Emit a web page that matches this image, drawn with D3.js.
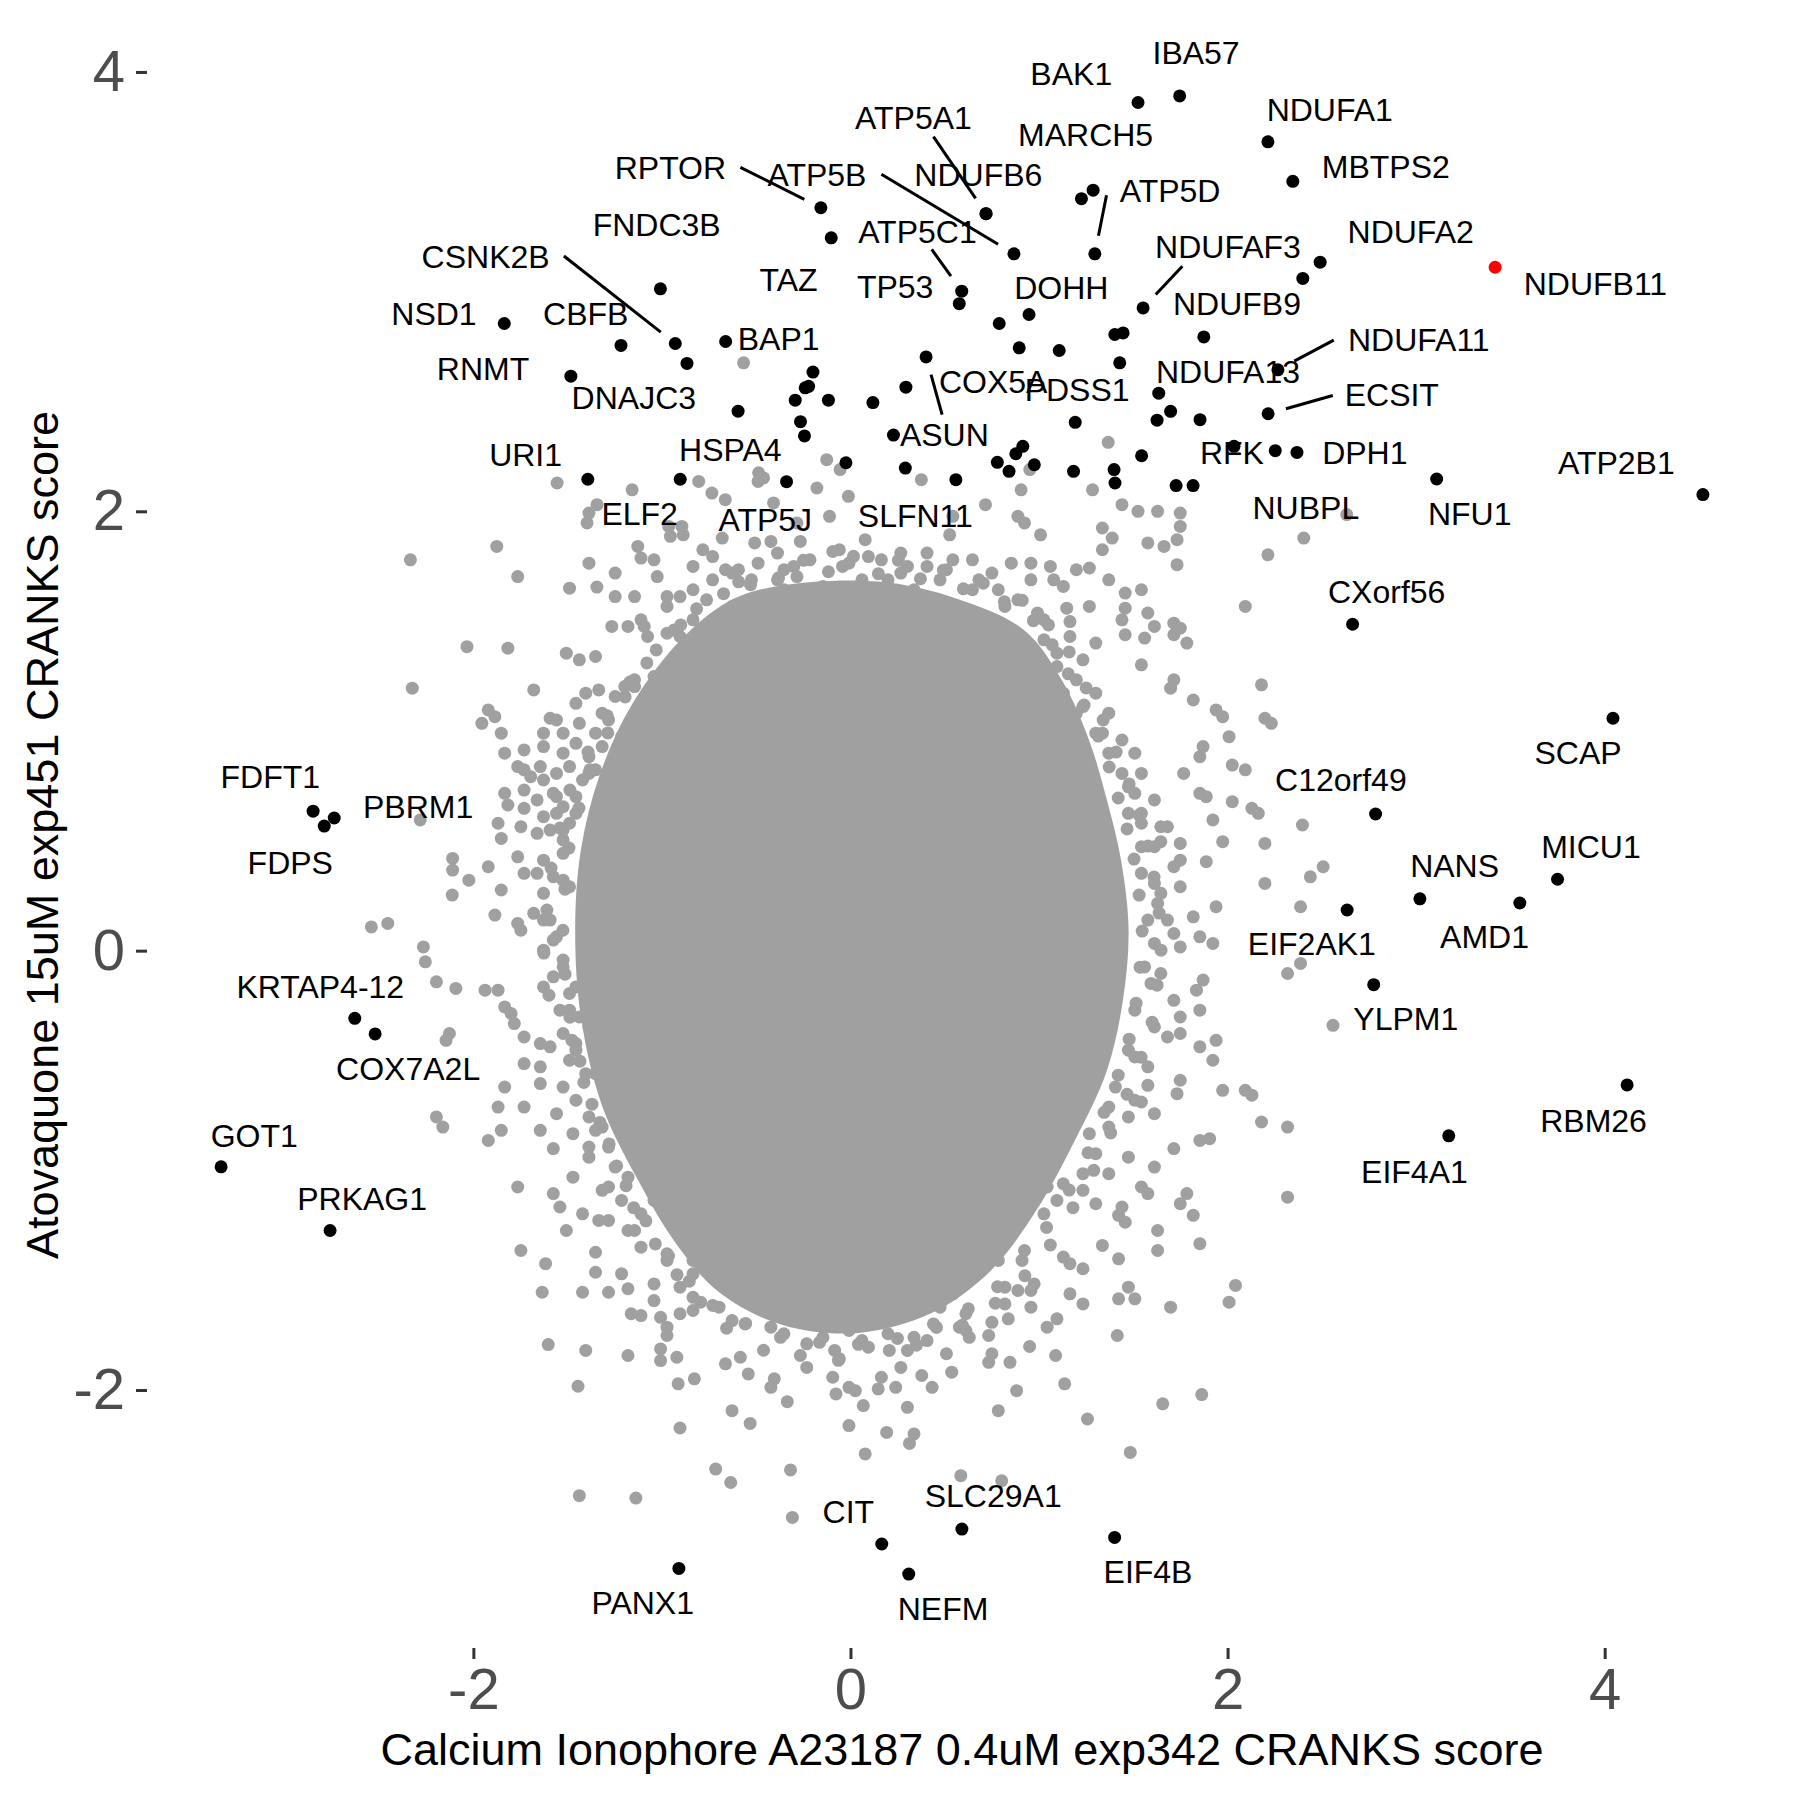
<!DOCTYPE html>
<html>
<head>
<meta charset="utf-8">
<script src="https://cdn.jsdelivr.net/npm/d3@7"></script>
<style>
  body { margin: 0; background: #ffffff; }
</style>
</head>
<body>
<div id="caja"></div>
<script>
// labelled genes: name, x score, y score, label x, label y (label spots as ggrepel left them)
var labeledGenes = [
  ["RPTOR", -0.157, 3.382, -0.955, 3.564],
  ["ATP5B", 0.867, 3.172, -0.178, 3.534],
  ["ATP5A1", 0.719, 3.355, 0.334, 3.792],
  ["NDUFB6", 0.719, 3.355, 0.678, 3.534],
  ["TAZ", -0.102, 3.245, -0.328, 3.055],
  ["ATP5C1", 0.590, 3.002, 0.355, 3.274],
  ["TP53", 0.577, 2.945, 0.237, 3.023],
  ["FNDC3B", -1.008, 3.013, -1.028, 3.306],
  ["CSNK2B", -0.929, 2.764, -1.935, 3.160],
  ["NSD1", -1.836, 2.855, -2.209, 2.900],
  ["CBFB", -1.217, 2.755, -1.404, 2.900],
  ["RNMT", -1.483, 2.615, -1.949, 2.650],
  ["DNAJC3", -0.867, 2.673, -1.149, 2.518],
  ["BAP1", -0.662, 2.773, -0.381, 2.787],
  ["HSPA4", -0.596, 2.456, -0.637, 2.281],
  ["URI1", -1.393, 2.146, -1.723, 2.258],
  ["ELF2", -0.903, 2.146, -1.118, 1.989],
  ["ATP5J", -0.339, 2.135, -0.452, 1.962],
  ["SLFN11", 0.291, 2.197, 0.344, 1.980],
  ["ASUN", 0.401, 2.703, 0.498, 2.349],
  ["COX5A", 0.895, 2.744, 0.757, 2.593],
  ["ATP5D", 1.296, 3.172, 1.695, 3.459],
  ["MARCH5", 1.287, 3.462, 1.247, 3.716],
  ["DOHH", 0.947, 2.896, 1.118, 3.019],
  ["BAK1", 1.525, 3.861, 1.171, 3.992],
  ["IBA57", 1.746, 3.891, 1.833, 4.090],
  ["NDUFA1", 2.214, 3.682, 2.542, 3.830],
  ["MBTPS2", 2.346, 3.502, 2.839, 3.570],
  ["NDUFA2", 2.491, 3.134, 2.971, 3.272],
  ["NDUFB11", 3.419, 3.111, 3.951, 3.037],
  ["NDUFAF3", 1.552, 2.926, 2.002, 3.207],
  ["NDUFB9", 1.874, 2.794, 2.050, 2.948],
  ["NDUFA11", 2.267, 2.644, 3.014, 2.782],
  ["NDUFA13", 1.635, 2.538, 2.002, 2.638],
  ["ECSIT", 2.215, 2.444, 2.871, 2.531],
  ["PDSS1", 1.192, 2.405, 1.202, 2.554],
  ["RFK", 2.034, 2.296, 2.023, 2.267],
  ["DPH1", 2.368, 2.268, 2.728, 2.267],
  ["NUBPL", 2.253, 2.276, 2.415, 2.016],
  ["NFU1", 3.109, 2.147, 3.284, 1.989],
  ["ATP2B1", 4.521, 2.076, 4.062, 2.221],
  ["CXorf56", 2.663, 1.486, 2.844, 1.635],
  ["SCAP", 4.044, 1.058, 3.859, 0.900],
  ["C12orf49", 2.785, 0.622, 2.601, 0.777],
  ["MICU1", 3.750, 0.325, 3.927, 0.472],
  ["NANS", 3.020, 0.236, 3.204, 0.390],
  ["AMD1", 3.550, 0.217, 3.363, 0.064],
  ["EIF2AK1", 2.634, 0.185, 2.447, 0.031],
  ["YLPM1", 2.775, -0.155, 2.945, -0.308],
  ["RBM26", 4.119, -0.611, 3.941, -0.772],
  ["EIF4A1", 3.173, -0.843, 2.991, -1.005],
  ["FDFT1", -2.850, 0.635, -3.077, 0.792],
  ["PBRM1", -2.738, 0.604, -2.293, 0.657],
  ["FDPS", -2.791, 0.567, -2.971, 0.403],
  ["KRTAP4-12", -2.629, -0.308, -2.812, -0.161],
  ["COX7A2L", -2.521, -0.379, -2.346, -0.538],
  ["GOT1", -3.338, -0.984, -3.162, -0.840],
  ["PRKAG1", -2.760, -1.274, -2.590, -1.126],
  ["PANX1", -0.910, -2.812, -1.102, -2.969],
  ["CIT", 0.166, -2.701, -0.011, -2.553],
  ["NEFM", 0.309, -2.838, 0.491, -2.996],
  ["SLC29A1", 0.591, -2.633, 0.757, -2.481],
  ["EIF4B", 1.401, -2.671, 1.578, -2.826]
];

// where the repel segments leave the label
var segmentStarts = [
  ["RPTOR", -0.584, 3.566],
  ["ATP5B", 0.164, 3.534],
  ["ATP5A1", 0.440, 3.706],
  ["CSNK2B", -1.520, 3.162],
  ["ATP5C1", 0.431, 3.192],
  ["ATP5D", 1.358, 3.439],
  ["NDUFAF3", 1.760, 3.116],
  ["NDUFA11", 2.563, 2.779],
  ["ECSIT", 2.558, 2.527],
  ["ASUN", 0.486, 2.440]
];

var highlightGene = "NDUFB11";

// other hits, no label
var otherHits = [
  [0.228,2.347],[1.225,3.423],[2.399,3.060],[0.789,2.855],[1.107,2.732],[0.294,2.565],[0.119,2.495],
  [1.428,2.676],[1.402,2.805],[1.446,2.812],[1.698,2.455],[1.626,2.415],[1.854,2.417],[1.727,2.117],
  [1.817,2.117],[-0.199,2.634],[-0.240,2.562],[-0.222,2.569],[-0.293,2.506],[-0.117,2.506],[-0.265,2.408],
  [-0.244,2.343],[-0.024,2.221],[0.914,2.296],[0.877,2.262],[0.779,2.223],[0.841,2.182],[0.975,2.212],
  [1.183,2.182],[1.398,2.190],[1.403,2.129],[1.544,2.253],[0.559,2.144]
];

// outline of the part of the cloud where the grey dots merge into one blot
var denseCore = [
  [-0.381,1.66],[0.148,1.68],[0.572,1.60],[0.920,1.460],[1.120,1.233],[1.265,0.959],[1.360,0.686],
  [1.435,0.412],[1.475,0.093],[1.445,-0.226],[1.360,-0.545],[1.190,-0.864],[0.980,-1.190],[0.740,-1.460],
  [0.430,-1.650],[0.042,-1.740],[-0.355,-1.705],[-0.690,-1.560],[-0.920,-1.340],[-1.130,-1.040],
  [-1.320,-0.700],[-1.430,-0.300],[-1.460,0.093],[-1.430,0.458],[-1.330,0.800],[-1.160,1.119],
  [-0.900,1.415],[-0.646,1.590]
];

// genes sitting right on the rim of the blot
var rimGenes = [
  [-0.381,1.697],[-0.117,1.725],[0.148,1.716],[0.371,1.693],[0.599,1.647],[0.816,1.588],[0.970,1.502],
  [1.070,1.392],[1.155,1.260],[1.239,1.118],[1.314,0.977],[1.372,0.836],[1.420,0.695],[1.467,0.554],
  [1.504,0.417],[1.531,0.253],[1.547,0.089],[1.536,-0.075],[1.515,-0.239],[1.478,-0.403],[1.420,-0.567],
  [1.345,-0.736],[1.260,-0.920],[1.160,-1.090],[1.040,-1.260],[0.910,-1.410],[0.780,-1.530],[0.625,-1.630],
  [0.456,-1.715],[0.249,-1.765],[0.042,-1.792],[-0.164,-1.783],[-0.371,-1.760],[-0.556,-1.697],[-0.730,-1.615],
  [-0.855,-1.505],[-0.965,-1.390],[-1.085,-1.230],[-1.190,-1.070],[-1.280,-0.880],[-1.371,-0.699],[-1.435,-0.503],
  [-1.488,-0.303],[-1.514,-0.107],[-1.525,0.093],[-1.514,0.280],[-1.493,0.467],[-1.440,0.649],[-1.382,0.823],
  [-1.287,0.991],[-1.195,1.155],[-1.080,1.310],[-0.935,1.460],[-0.816,1.556],[-0.673,1.625],[-0.530,1.666],
  [-0.249,1.777],[0.016,1.795],[0.254,1.777],[0.493,1.732],[0.704,1.673],[0.911,1.595],[1.050,1.483],
  [1.160,1.360],[1.250,1.196],[1.340,1.050],[1.409,0.904],[1.478,0.759],[1.531,0.617],[1.578,0.476],
  [1.610,0.335],[1.637,0.171],[1.647,0.002],[1.626,-0.157],[1.600,-0.326],[1.541,-0.485],[1.467,-0.654],
  [1.380,-0.830],[1.290,-1.000],[1.180,-1.170],[1.060,-1.340],[0.925,-1.480],[0.768,-1.605],[0.593,-1.705],
  [0.350,-1.796],[-0.064,-1.865],[-0.461,-1.819],[-0.657,-1.719],[-0.795,-1.600],[-0.920,-1.475],[-1.035,-1.335],
  [-1.150,-1.170],[-1.240,-0.980],[-1.329,-0.782],[-1.414,-0.600],[-1.477,-0.408],[-1.599,-0.203],[-1.626,-0.011],
  [-1.610,0.185],[-1.588,0.376],[-1.541,0.558],[-1.488,0.731],[-1.392,0.904],[-1.290,1.069],[-1.170,1.223],
  [-1.030,1.369],[-0.900,1.483],[-0.763,1.597],[-0.593,1.679]
];

// the rest of the genes, around the dense part
var backgroundGenes = [
  [-0.567,2.676],[-0.126,2.235],[-0.487,2.175],[-0.461,2.152],[-0.055,2.190],[1.367,2.314],[0.951,2.190],
  [0.376,2.144],[2.632,1.985],[-1.556,2.129],[-1.158,2.098],[-1.344,2.030],[-1.397,1.947],[-0.805,2.136],
  [-0.735,2.083],[-0.664,2.053],[-0.408,2.038],[-0.964,1.931],[-0.894,1.931],[-0.011,2.068],[-0.178,2.106],
  [-0.490,2.136],[0.905,2.098],[1.284,2.098],[1.440,2.030],[1.525,2.000],[1.629,2.000],[1.749,1.992],
  [-1.387,1.992],[-0.955,1.886],[-0.887,1.893],[-0.284,1.947],[-0.266,1.863],[-0.111,1.977],[0.543,1.977],
  [0.526,1.893],[0.716,2.030],[0.888,1.977],[0.923,1.947],[1.008,1.893],[1.336,1.924],[1.388,1.878],
  [1.577,1.856],[1.663,1.840],[1.732,1.871],[1.749,1.931],[2.404,1.878],[2.214,1.802],[1.732,1.757],
  [1.336,1.825],[-1.128,1.840],[-1.111,1.787],[-0.783,1.825],[-0.680,1.878],[-0.508,1.856],[-0.422,1.863],
  [0.078,1.871],[-2.334,1.779],[-1.876,1.840],[-1.765,1.703],[-1.490,1.650],[-1.345,1.655],[-1.042,1.779],
  [-1.025,1.703],[-0.663,1.734],[-0.594,1.734],[-0.353,1.734],[-0.301,1.749],[-0.284,1.703],[-0.094,1.817],
  [-0.059,1.825],[0.957,1.764],[1.078,1.688],[1.198,1.734],[1.267,1.742],[1.457,1.628],[1.457,1.559],
  [1.440,1.506],[1.577,1.537],[2.094,1.567],[1.612,1.476],[1.715,1.491],[1.749,1.468],[1.715,1.438],
  [1.784,1.400],[1.560,1.423],[1.457,1.438],[1.301,1.400],[1.164,1.498],[1.147,1.559],[1.267,1.567],
  [-1.248,1.612],[-1.145,1.612],[-1.266,1.476],[-1.180,1.476],[-0.973,1.612],[-0.904,1.612],[-1.094,1.476],
  [-1.076,1.430],[-2.034,1.384],[-1.817,1.377],[-1.507,1.354],[-1.438,1.324],[-1.352,1.339],[-2.324,1.195],
  [-1.680,1.187],[2.180,1.210],[1.543,1.301],[1.715,1.233],[1.698,1.195],[1.818,1.141],[1.939,1.096],
  [1.974,1.065],[2.198,1.058],[2.232,1.035],[2.008,0.974],[1.870,0.929],[1.853,0.883],[2.025,0.845],
  [2.094,0.823],[1.767,0.807],[1.853,0.716],[1.887,0.701],[2.025,0.678],[2.129,0.648],[2.163,0.625],
  [1.922,0.595],[1.646,0.564],[1.749,0.488],[1.974,0.496],[2.198,0.488],[2.397,0.572],[2.507,0.382],
  [2.439,0.336],[2.198,0.306],[1.749,0.291],[1.612,0.306],[1.887,0.405],[1.749,0.412],[1.646,0.496],
  [1.543,0.580],
  [-1.921,1.096],[-1.886,1.065],[-1.955,1.035],[-1.852,0.990],[-1.593,1.058],[-1.559,1.050],[-1.834,0.899],
  [-1.765,0.838],[-1.731,0.823],[-1.696,0.792],[-1.645,0.838],[-1.834,0.716],[-1.817,0.663],[-1.731,0.648],
  [-1.869,0.580],[-1.852,0.511],[-1.748,0.564],[-2.282,0.595],[-2.110,0.420],[-2.110,0.367],[-1.921,0.382],
  [-2.024,0.321],[-1.731,0.352],[-1.662,0.352],[-1.852,0.276],[-1.576,0.336],[-1.490,0.291],[-2.112,0.253],
  [-2.541,0.108],[-2.454,0.124],[-2.265,0.017],[-2.255,-0.051],[-2.196,-0.142],[-2.093,-0.172],[-1.938,-0.180],
  [-1.869,-0.180],[-1.886,0.162],[-1.765,0.124],[-1.748,0.093],[-1.680,0.170],[-1.834,-0.256],[-1.800,-0.286],
  [-1.783,-0.332],[-1.731,-0.393],[-1.645,-0.423],[-1.593,-0.438],[-2.127,-0.377],[-2.145,-0.408],[-1.834,-0.621],
  [-1.645,-0.605],[-1.869,-0.712],[-1.731,-0.712],[-2.196,-0.757],[-2.162,-0.803],[-1.852,-0.818],[-1.921,-0.864],
  [-1.645,-0.818],[-1.576,-0.901],[-1.472,-0.833],[-1.387,-0.894],[-1.765,-1.076],[-1.472,-1.031],[-1.576,-1.106],
  [-1.541,-1.167],[-1.507,-1.274],[-1.421,-1.198],[-1.335,-1.228],[-1.628,0.139],[-1.576,0.048],[-1.524,-0.074],
  [-1.456,-0.165],[-1.490,-0.271],[-1.387,-0.347],[-1.456,-0.453],[-1.352,-0.560],[-1.248,-0.681],[-1.317,-0.803],
  [-1.180,-0.894],[-1.111,-0.985],[-1.283,-1.076],[-1.042,-1.137],[-0.904,-1.198],[-1.180,-1.274],
  [-1.593,0.139],[-1.559,0.063],[-1.628,0.002],[-1.524,-0.043],[-1.576,-0.119],[-1.628,-0.165],[-1.490,-0.195],
  [-1.541,-0.271],[-1.438,-0.302],[-1.524,-0.377],[-1.456,-0.423],[-1.490,-0.499],[-1.404,-0.560],[-1.524,-0.621],
  [-1.456,-0.681],[-1.559,-0.742],[-1.387,-0.757],[-1.352,-0.818],[-1.283,-0.894],[-1.387,-0.940],[-1.248,-0.985],
  [-1.180,-1.031],[-1.317,-1.091],[-1.214,-1.137],[-1.111,-1.198],[-1.145,-1.274],[-1.283,-1.228],[-1.731,-0.514],
  [-1.645,-0.529],
  [-1.404,1.172],[-1.335,1.187],[-1.197,1.202],[-1.145,1.233],[-1.076,1.172],[-1.042,1.248],[-0.973,1.202],
  [-0.887,1.233],[-1.628,0.990],[-1.524,0.990],[-1.438,1.035],[-1.352,0.990],[-1.283,1.050],[-1.214,0.974],
  [-1.111,1.020],[-1.731,0.914],[-1.628,0.929],[-1.524,0.899],[-1.456,0.944],[-1.387,0.883],[-1.317,0.929],
  [-1.248,0.899],[-1.559,0.807],[-1.490,0.838],[-1.421,0.777],[-1.352,0.823],[-1.731,0.731],[-1.662,0.686],
  [-1.576,0.716],[-1.524,0.655],[-1.456,0.701],[-1.628,0.610],[-1.559,0.625],[-1.490,0.580],[-1.662,0.534],
  [-1.593,0.549],[-1.524,0.504],[-1.765,0.427],[-1.628,0.412],[-1.524,0.443],[-1.524,0.321],[-1.628,0.261],
  [1.629,0.215],[1.681,0.139],[1.818,0.154],[1.939,0.200],[1.715,0.078],[1.749,0.017],[1.853,0.063],
  [1.922,0.033],[2.387,0.200],[2.318,-0.104],[2.387,-0.058],[2.559,-0.340],[1.646,-0.104],[1.715,-0.226],
  [1.835,-0.180],[1.870,-0.134],[1.749,-0.302],[1.853,-0.271],[1.681,-0.393],[1.749,-0.377],[1.939,-0.408],
  [1.922,-0.499],[1.853,-0.438],[1.749,-0.590],[1.732,-0.651],[1.577,-0.613],[1.543,-0.689],[1.974,-0.636],
  [2.094,-0.636],[2.129,-0.658],[2.180,-0.780],[2.318,-0.803],[1.715,-0.901],[1.853,-0.864],[1.905,-0.856],
  [1.474,-0.940],[1.612,-0.985],[1.612,-0.742],[1.474,-0.757],[2.318,-1.122],[1.784,-1.106],[1.749,-1.152],
  [1.543,-1.076],[1.577,-1.106],[1.440,-1.167],[1.301,-1.152],[1.818,-1.205],[1.629,-1.274],[1.457,-1.236],
  [1.422,-1.205],[1.233,-1.015],[1.129,-1.061],[1.043,-1.076],[1.508,-0.484],[1.370,-0.712],[1.267,-0.833],
  [1.577,0.139],[1.612,0.033],[1.560,-0.074],[1.594,-0.149],[1.508,-0.271],[1.612,-0.347],[1.474,-0.453],
  [1.577,-0.529],[1.405,-0.621],[1.508,-0.681],[1.370,-0.803],[1.301,-0.924],[1.370,-1.015],[1.233,-1.091],
  [1.095,-1.137],[1.026,-1.198],[0.888,-1.228],[0.784,-1.289],
  [1.095,1.293],[1.198,1.233],[1.301,1.172],[1.233,1.111],[1.370,1.081],[1.336,0.990],[1.440,0.959],
  [1.508,0.899],[1.543,0.807],[1.474,0.746],[1.612,0.686],[1.543,0.625],[1.681,0.564],[1.612,0.473],
  [1.715,0.382],[1.543,0.352],[1.646,0.261],
  [1.129,1.172],[1.198,1.081],[1.301,0.990],[1.370,0.899],[1.440,0.807],[1.508,0.716],[1.474,0.625],
  [1.543,0.473],[0.957,1.384],[0.819,1.460],[0.681,1.506],[1.026,1.506],[-1.456,1.126],[-1.317,1.081],
  [-1.248,1.157],[-1.145,1.202],[-1.628,0.777],[-1.559,0.701],[-1.456,0.625],[-1.524,0.549],[-1.387,0.807],
  [-1.283,0.716],[-0.525,1.688],[-0.353,1.643],[-0.146,1.658],[0.061,1.688],[0.267,1.719],[0.475,1.688],
  [0.647,1.643],[-0.628,1.567],[-0.835,1.506],[-0.973,1.445],[-0.731,1.688],[-0.628,1.719],[-0.387,1.688],
  [-0.008,1.764],[0.164,1.779],[0.267,1.810],[0.406,1.749],[0.543,1.779],[0.681,1.688],[0.784,1.643],
  [0.888,1.597],[0.337,1.643],[-0.835,1.643],[-0.973,1.567],[-1.111,1.506],
  [1.026,1.415],[1.095,1.354],[1.164,1.430],[1.233,1.324],[0.992,1.537],[0.819,1.567],[-0.835,1.384],
  [-0.904,1.430],[-0.766,1.460],
  [-0.835,1.749],[-0.731,1.794],[-0.490,1.764],[-0.387,1.810],[-0.215,1.779],[-0.042,1.749],[0.095,1.794],
  [0.199,1.688],[0.302,1.749],[0.406,1.810],[0.509,1.734],[0.647,1.779],[0.750,1.719],[0.853,1.764],
  [0.957,1.688],[1.060,1.749],[1.129,1.658],[1.370,1.688],[1.543,1.643],[-1.248,1.719],[-1.387,1.764],
  [-1.748,-1.365],[-1.617,-1.425],[-1.352,-1.373],[-1.352,-1.464],[-1.635,-1.555],[-1.421,-1.555],[-1.283,-1.555],
  [-1.180,-1.539],[-1.163,-1.653],[-1.111,-1.661],[-1.007,-1.669],[-0.973,-1.714],[-0.973,-1.752],[-1.603,-1.793],
  [-1.404,-1.820],[-1.180,-1.843],[-1.007,-1.813],[-1.007,-1.866],[-0.921,-1.851],[-1.445,-1.983],[-0.914,-1.972],
  [-0.828,-1.949],[-0.904,-2.173],[-0.663,-1.881],[-0.584,-1.851],[-0.628,-2.094],[-0.532,-2.152],[-0.542,-1.927],
  [-0.404,-1.949],[-0.422,-1.988],[-0.335,-2.053],[-0.266,-1.843],[-0.232,-1.897],[-0.232,-1.790],[-0.084,-1.820],
  [-0.059,-1.858],[-0.094,-1.942],[-0.077,-2.018],[-0.008,-1.988],[0.026,-2.003],[0.068,-2.071],[-0.008,-2.162],
  [0.164,-1.942],[0.147,-1.995],[0.240,-1.988],[0.192,-2.193],[0.302,-2.079],[0.337,-2.200],[0.313,-2.243],
  [0.267,-1.897],[0.302,-1.820],[0.206,-1.820],[0.095,-1.805],[0.378,-1.934],[0.433,-1.988],[0.537,-1.919],
  [0.509,-1.835],[0.078,-2.291],[-0.715,-2.360],[-0.635,-2.421],[-0.318,-2.364],[-1.438,-2.481],[-1.138,-2.492],
  [-0.308,-2.580],[0.585,-2.390],[0.802,-2.413],[0.784,-2.094],[0.881,-2.003],[0.733,-1.874],[0.750,-1.835],
  [0.846,-1.874],[0.950,-1.802],[1.088,-1.843],[1.136,-1.972],[1.257,-2.132],[1.484,-2.284],[1.656,-2.063],
  [1.863,-2.021],[1.415,-1.752],[1.698,-1.623],[2.008,-1.600],[2.042,-1.524],[1.508,-1.585],[1.422,-1.585],
  [1.474,-1.532],[1.164,-1.562],[1.233,-1.608],[1.095,-1.676],[1.043,-1.714],[0.957,-1.623],[0.837,-1.676],
  [0.750,-1.692],[0.733,-1.752],[1.129,-1.395],[1.164,-1.425],[1.233,-1.448],[1.422,-1.403],[1.336,-1.342],
  [1.629,-1.365],[1.853,-1.334],[0.974,-1.517],[0.888,-1.547],[0.819,-1.532],[0.612,-1.653],[0.578,-1.714],
  [0.630,-1.760],[0.543,-1.562],[-0.835,-1.578],[-0.697,-1.623],[-0.559,-1.699],[-0.353,-1.744],[-0.146,-1.760],
  [0.061,-1.775],[0.337,-1.760],[0.440,-1.699],[-0.835,-1.471],[-0.973,-1.410],[-1.042,-1.517],[-0.904,-1.653],
  [-1.111,-1.350],[-0.973,-1.380],[-0.835,-1.410],[-0.697,-1.456],[-0.559,-1.486],[-0.353,-1.517],[-0.146,-1.547],
  [0.061,-1.562],[0.267,-1.547],[0.440,-1.501],[0.612,-1.456],[0.784,-1.410],[0.923,-1.365],[-1.042,-1.593],
  [-0.835,-1.638],[-0.628,-1.684],[-0.422,-1.714],[-0.215,-1.699],[-0.008,-1.729],[0.199,-1.744],[0.406,-1.775],
  [0.612,-1.729],[0.819,-1.608],[0.957,-1.547],[-1.214,-1.471],[-0.904,-1.532],[-0.353,-1.623],[-0.077,-1.653],
  [0.164,-1.669],[0.475,-1.623]
];

var xTicks = [-2, 0, 2, 4];
var yTicks = [-2, 0, 2, 4];
var xTitle = "Calcium Ionophore A23187 0.4uM exp342 CRANKS score";
var yTitle = "Atovaquone 15uM exp451 CRANKS score";

var w = 1800, h = 1800;
var margin = {top: 22, right: 23, bottom: 152, left: 147};
var pw = w - margin.left - margin.right;
var ph = h - margin.top - margin.bottom;
var fuente = "'Liberation Sans', Arial, Helvetica, sans-serif";

var greyGenes = backgroundGenes.concat(rimGenes);

// domain = data range + 5% each side, like ggplot
var allX = [], allY = [];
labeledGenes.forEach(function(d) { allX.push(d[1]); allY.push(d[2]); });
otherHits.concat(greyGenes).forEach(function(d) { allX.push(d[0]); allY.push(d[1]); });
var ex = d3.extent(allX), ey = d3.extent(allY);
var padX = (ex[1] - ex[0]) * 0.05, padY = (ey[1] - ey[0]) * 0.05;

var x = d3.scaleLinear().domain([ex[0] - padX, ex[1] + padX]).range([margin.left, margin.left + pw]);
var y = d3.scaleLinear().domain([ey[0] - padY, ey[1] + padY]).range([margin.top + ph, margin.top]);

var chart = d3.select('#caja')
  .append('svg')
  .attr('width', w)
  .attr('height', h)
  .style('background', '#ffffff');

// dense part of the grey cloud
var coreLine = d3.line()
  .x(function(d) { return x(d[0]); })
  .y(function(d) { return y(d[1]); })
  .curve(d3.curveCatmullRomClosed.alpha(0.5));

chart.append('path')
  .datum(denseCore)
  .attr('d', coreLine)
  .style('fill', '#a0a0a0');

chart.append('g')
  .selectAll('circle')
  .data(greyGenes)
  .enter()
  .append('circle')
  .attr('cx', function(d) { return x(d[0]); })
  .attr('cy', function(d) { return y(d[1]); })
  .attr('r', 6.5)
  .style('fill', '#a0a0a0');

// black hits
chart.append('g')
  .selectAll('circle')
  .data(otherHits)
  .enter()
  .append('circle')
  .attr('cx', function(d) { return x(d[0]); })
  .attr('cy', function(d) { return y(d[1]); })
  .attr('r', 6.5)
  .style('fill', 'black');

chart.append('g')
  .selectAll('circle')
  .data(labeledGenes)
  .enter()
  .append('circle')
  .attr('cx', function(d) { return x(d[1]); })
  .attr('cy', function(d) { return y(d[2]); })
  .attr('r', 6.5)
  .style('fill', function(d) { return d[0] === highlightGene ? '#ff0000' : 'black'; });

// segments: from label side to the point, stopping short of it
var byName = {};
labeledGenes.forEach(function(d) { byName[d[0]] = d; });

chart.append('g')
  .selectAll('line')
  .data(segmentStarts)
  .enter()
  .append('line')
  .each(function(s) {
    var g = byName[s[0]];
    var x1 = x(s[1]), y1 = y(s[2]);
    var px = x(g[1]), py = y(g[2]);
    var dx = px - x1, dy = py - y1;
    var len = Math.sqrt(dx * dx + dy * dy);
    var k = (len - 18.5) / len;
    d3.select(this)
      .attr('x1', x1).attr('y1', y1)
      .attr('x2', x1 + dx * k).attr('y2', y1 + dy * k);
  })
  .style('stroke', 'black')
  .style('stroke-width', 3);

chart.append('g')
  .selectAll('text')
  .data(labeledGenes)
  .enter()
  .append('text')
  .attr('x', function(d) { return x(d[3]); })
  .attr('y', function(d) { return y(d[4]); })
  .attr('dy', '0.36em')
  .attr('text-anchor', 'middle')
  .text(function(d) { return d[0]; })
  .style('font-family', fuente)
  .style('font-size', '32px')
  .style('fill', 'black');

// axes
var xAxis = d3.axisBottom(x).tickValues(xTicks).tickSize(11).tickPadding(9)
  .tickFormat(function(d) { return String(d); });
var yAxis = d3.axisLeft(y).tickValues(yTicks).tickSize(11).tickPadding(11)
  .tickFormat(function(d) { return String(d); });

var gx = chart.append('g')
  .attr('transform', 'translate(0,' + (margin.top + ph) + ')')
  .call(xAxis);
var gy = chart.append('g')
  .attr('transform', 'translate(' + margin.left + ',0)')
  .call(yAxis);

[gx, gy].forEach(function(g) {
  g.select('.domain').remove();
  g.selectAll('.tick line').style('stroke', '#333333').style('stroke-width', 3);
  g.selectAll('.tick text')
    .style('font-family', fuente)
    .style('font-size', '58px')
    .style('fill', '#4d4d4d');
});

chart.append('text')
  .attr('x', margin.left + pw / 2)
  .attr('y', 1765)
  .attr('text-anchor', 'middle')
  .text(xTitle)
  .style('font-family', fuente)
  .style('font-size', '45px')
  .style('fill', 'black');

chart.append('text')
  .attr('transform', 'translate(58,' + (margin.top + ph / 2) + ') rotate(-90)')
  .attr('text-anchor', 'middle')
  .text(yTitle)
  .style('font-family', fuente)
  .style('font-size', '45px')
  .style('fill', 'black');
</script>
</body>
</html>
